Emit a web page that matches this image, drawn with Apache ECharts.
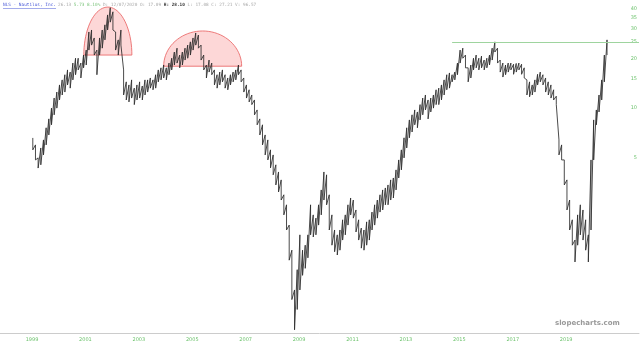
<!DOCTYPE html>
<html><head><meta charset="utf-8">
<script src="https://cdn.jsdelivr.net/npm/echarts@6/dist/echarts.min.js"></script>
<style>html,body{margin:0;padding:0;background:#fff}#c{width:640px;height:345px}</style>
</head><body><div id="c"></div>
<script>
// sample dates (decimal years)
const dates = [
1999.4,1999.5,1999.6,1999.7,1999.8,1999.9,2000.0,2000.1,2000.2,2000.3,2000.4,2000.5,2000.6,2000.7,2000.8,2000.9,
2001.0,2001.1,2001.2,2001.3,2001.4,2001.5,2001.6,2001.7,2001.8,2001.9,2002.0,2002.1,2002.2,2002.3,2002.4,2002.5,2002.6,2002.7,2002.8,2002.9,
2003.0,2003.1,2003.2,2003.3,2003.4,2003.5,2003.6,2003.7,2003.8,2003.9,2004.0,2004.1,2004.2,2004.3,2004.4,2004.5,2004.6,2004.7,2004.8,2004.9,
2005.0,2005.1,2005.2,2005.3,2005.4,2005.5,2005.6,2005.7,2005.8,2005.9,2006.0,2006.1,2006.2,2006.3,2006.4,2006.5,2006.6,2006.7,2006.8,2006.9,
2007.0,2007.1,2007.2,2007.3,2007.4,2007.5,2007.6,2007.7,2007.8,2007.9,2008.0,2008.1,2008.2,2008.3,2008.4,2008.5,2008.6,2008.7,2008.8,2008.9,
2009.0,2009.1,2009.2,2009.3,2009.4,2009.5,2009.6,2009.7,2009.8,2009.9,2010.0,2010.1,2010.2,2010.3,2010.4,2010.5,2010.6,2010.7,2010.8,2010.9,
2011.0,2011.1,2011.2,2011.3,2011.4,2011.5,2011.6,2011.7,2011.8,2011.9,2012.0,2012.1,2012.2,2012.3,2012.4,2012.5,2012.6,2012.7,2012.8,2012.9,
2013.0,2013.1,2013.2,2013.3,2013.4,2013.5,2013.6,2013.7,2013.8,2013.9,2014.0,2014.1,2014.2,2014.3,2014.4,2014.5,2014.6,2014.7,2014.8,2014.9,
2015.0,2015.1,2015.2,2015.3,2015.4,2015.5,2015.6,2015.7,2015.8,2015.9,2016.0,2016.1,2016.2,2016.3,2016.4,2016.5,2016.6,2016.7,2016.8,2016.9,
2017.0,2017.1,2017.2,2017.3,2017.4,2017.5,2017.6,2017.7,2017.8,2017.9,2018.0,2018.1,2018.2,2018.3,2018.4,2018.5,2018.6,2018.7,2018.8,2018.9,
2019.0,2019.1,2019.2,2019.3,2019.4,2019.5,2019.6,2019.7,2019.8,2019.9,2020.0,2020.1,2020.2,2020.3,2020.4,2020.5,2020.6,2020.7,2020.8,2020.9
];
const highs = [
6.61,6.00,5.01,5.75,6.43,7.61,8.61,10.0,11.5,12.5,13.8,14.8,15.9,17.0,16.5,18.7,
20.0,20.0,18.7,20.9,22.4,28.8,29.6,26.5,22.4,26.5,29.6,31.8,36.5,40.3,38.1,28.8,25.8,29.6,17.0,14.4,
13.8,14.8,13.2,13.8,14.4,13.6,14.8,14.8,15.2,14.8,15.9,17.0,17.5,18.2,17.5,18.7,20.0,21.8,23.0,20.9,
21.8,23.0,24.0,25.1,26.5,28.4,27.6,24.0,20.9,18.2,19.5,18.7,17.0,15.9,16.5,17.0,15.9,15.2,15.9,16.5,
17.0,18.2,17.0,15.2,13.8,12.9,12.0,11.2,9.75,8.61,7.93,6.89,6.43,5.60,5.22,4.55,4.12,3.69,3.00,2.61,
1.97,1.39,0.80,1.06,1.72,1.39,1.49,1.72,2.61,2.27,2.17,2.61,3.21,4.12,3.96,3.00,2.27,1.84,1.72,1.84,
2.12,2.27,2.61,2.87,2.79,2.43,2.12,1.89,1.84,2.06,2.12,2.36,2.61,2.79,3.00,3.21,3.30,3.44,3.69,3.79,
4.24,4.87,5.60,6.62,7.61,8.49,9.11,9.75,9.48,10.5,11.5,12.0,11.2,11.5,12.0,12.9,13.2,13.8,14.8,15.9,
16.3,15.9,16.5,18.7,22.4,23.0,20.9,17.5,18.2,20.0,20.9,20.0,20.6,19.5,20.0,20.9,23.0,25.1,23.0,19.5,
18.7,18.2,18.7,18.7,18.4,18.6,18.7,18.4,17.5,14.8,14.4,13.8,14.8,16.0,16.5,15.9,15.2,14.4,13.8,12.9,
11.8,6.43,6.00,4.87,3.69,2.79,2.12,1.60,2.27,2.61,2.43,2.12,1.72,4.87,8.49,9.75,12.0,14.8,20.9,25.8
];
const lows = [
5.60,4.87,4.35,4.55,5.22,6.00,6.89,7.93,9.11,10.0,11.2,12.0,12.5,13.8,13.2,14.8,
15.9,17.0,15.2,17.5,18.2,22.4,24.0,20.9,15.9,20.9,23.0,25.8,29.6,33.0,29.6,22.4,20.9,24.0,12.0,11.2,
10.9,11.5,10.5,11.2,11.5,11.2,12.0,12.5,13.2,12.9,13.2,14.4,14.8,15.2,14.8,15.9,17.0,18.2,18.7,17.5,
18.2,19.5,20.0,20.9,22.4,24.0,23.0,19.5,17.0,15.2,16.5,15.9,13.8,13.2,13.8,14.4,13.2,12.9,13.8,14.4,
14.8,15.9,14.4,12.5,11.5,10.9,10.5,9.11,7.93,6.89,6.00,5.22,4.87,4.36,3.96,3.44,3.12,2.79,2.27,1.84,
1.21,0.70,0.46,0.61,0.80,0.98,1.08,1.25,1.72,1.67,1.72,1.97,2.27,2.79,2.61,1.84,1.49,1.36,1.30,1.39,
1.60,1.72,1.97,2.27,2.17,1.79,1.60,1.43,1.39,1.49,1.60,1.84,1.97,2.17,2.36,2.43,2.61,2.61,2.79,2.87,
3.21,3.79,4.24,5.01,5.75,6.62,7.18,7.93,7.61,8.49,9.11,9.75,8.61,9.48,10.0,10.5,10.5,11.2,12.0,12.9,
13.2,14.4,14.8,15.9,18.7,20.0,17.5,14.4,15.2,17.0,17.5,17.0,17.5,17.0,17.5,18.2,19.5,21.8,18.7,16.5,
15.4,15.9,16.5,17.0,16.0,16.5,17.0,16.0,15.2,12.0,11.7,12.0,12.5,13.8,14.4,13.8,12.5,12.0,11.5,11.2,
10.5,5.22,4.87,3.44,2.43,1.84,1.49,1.18,1.49,1.72,1.60,1.39,1.18,1.84,4.87,7.93,9.48,11.2,14.4,20.9
];
// y-axis tick labels (price)
const yTicks = [5, 10, 15, 20, 25, 30, 35, 40];
// x-axis year labels
const yearLabels = [1999, 2001, 2003, 2005, 2007, 2009, 2011, 2013, 2015, 2017, 2019];
// highlighted tops (semi-ellipses): center date, half width (years), base price, top price
const arcCenter = [2002.21, 2005.76];
const arcHalf = [0.90, 1.46];
const arcBase = [20.9, 17.9];
const arcTop = [40.7, 29.2];
// horizontal resistance line
const resLevel = 25;
const resStart = 2015.1;

const yearOffset = 0.37;
const zig = [];
for (let i = 0; i < dates.length; i++) {
  zig.push([dates[i], highs[i]]);
  zig.push([dates[i], lows[i]]);
}
const arcData = arcCenter.map((c, i) => [c, arcHalf[i], arcBase[i], arcTop[i]]);

const chart = echarts.init(document.getElementById('c'), null, {renderer: 'canvas'});
chart.setOption({
  animation: false,
  backgroundColor: '#fff',
  grid: {left: 0, right: 0, top: 0, bottom: 12},
  xAxis: {
    type: 'value', min: 1998.172, max: 2022.097,
    splitLine: {show: false},
    axisLine: {show: true, lineStyle: {color: '#ccc', width: 1}},
    axisTick: {show: false},
    axisLabel: {
      customValues: yearLabels.map(y => y + yearOffset),
      formatter: v => String(Math.floor(v)),
      color: '#6cc26c', fontSize: 5, margin: 4, fontFamily: 'DejaVu Sans'
    }
  },
  yAxis: {
    type: 'log', logBase: 10, min: 0.44, max: 44.9, position: 'right',
    splitLine: {show: false},
    axisLine: {show: false},
    axisTick: {show: false},
    axisLabel: {
      inside: true, customValues: yTicks, color: '#6cc26c', fontSize: 5,
      margin: 2, fontFamily: 'DejaVu Sans', formatter: v => String(v)
    }
  },
  series: [
    {
      type: 'custom', z: 1, silent: true,
      data: arcData,
      renderItem: function (params, api) {
        const c = api.value(0), hw = api.value(1), b = api.value(2), t = api.value(3);
        const pl = api.coord([c - hw, b]);
        const pr = api.coord([c + hw, b]);
        const pt = api.coord([c, t]);
        const cx = (pl[0] + pr[0]) / 2, rx = (pr[0] - pl[0]) / 2, ry = pl[1] - pt[1];
        const pts = [];
        for (let k = 0; k <= 40; k++) {
          const a = Math.PI * k / 40;
          pts.push([cx + rx * Math.cos(a), pl[1] - ry * Math.sin(a)]);
        }
        return {
          type: 'polygon', shape: {points: pts},
          style: {fill: 'rgba(250,140,140,0.35)', stroke: 'rgba(235,110,110,0.9)', lineWidth: 1}
        };
      }
    },
    {
      type: 'line', z: 3, data: zig, showSymbol: false, symbol: 'none',
      lineStyle: {color: '#2a2a2a', width: 0.85},
      markLine: {
        silent: true, symbol: 'none', label: {show: false},
        lineStyle: {color: '#9ed49e', width: 1, type: 'solid'},
        data: [[{coord: [resStart, resLevel]}, {coord: [2022.097, resLevel]}]]
      }
    }
  ],
  graphic: [
    {type: 'text', left: 3, top: 3, style: {text: 'NLS - Nautilus, Inc.', fill: '#4a5ad8', font: '4.4px DejaVu Sans Mono'}},
    {type: 'rect', left: 3, top: 8.3, shape: {width: 53, height: 0.5}, style: {fill: '#4a5ad8'}},
    {type: 'text', left: 58, top: 3, style: {
      rich: {g: {fill: '#aaa', font: '4.4px DejaVu Sans Mono'}, gr: {fill: '#7cc47c', font: '4.4px DejaVu Sans Mono'}, b: {fill: '#333', font: 'bold 4.4px DejaVu Sans Mono'}},
      text: '{g|26.13 }{gr|5.73 8.10%}{g| D: 12/07/2020 O: 17.09 }{b|H: 28.10}{g| L: 17.08 C: 27.21 V: 96.57}'
    }},
    {type: 'text', left: 555, top: 320, style: {text: 'slopecharts.com', fill: '#999', font: 'bold 7px DejaVu Sans'}}
  ]
});
</script></body></html>
